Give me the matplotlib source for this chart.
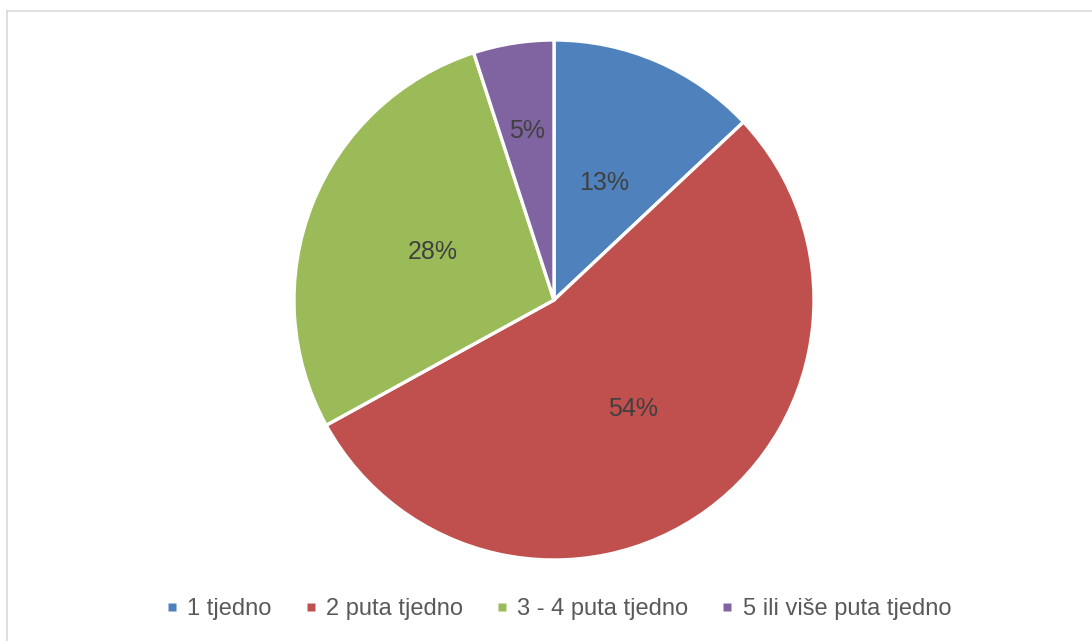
import matplotlib
matplotlib.use("Agg")
import matplotlib.pyplot as plt
from matplotlib.lines import Line2D
import numpy as np

categories = ["1 tjedno", "2 puta tjedno", "3 - 4 puta tjedno", "5 ili više puta tjedno"]
values = [13, 54, 28, 5]
colors = ["#4F81BD", "#C0504D", "#9BBB59", "#8064A2"]
label_dist = [0.49, 0.52, 0.50, 0.66]

plt.rcParams['font.family'] = ['Liberation Sans', 'DejaVu Sans']

W, H = 1092, 641
fig = plt.figure(figsize=(W / 100, H / 100), dpi=100)

cx, cy, r = 554, 300, 260
ax = fig.add_axes([(cx - r) / W, (H - cy - r) / H, 2 * r / W, 2 * r / H])
wedges, _ = ax.pie(values, colors=colors, startangle=90, counterclock=False,
                   wedgeprops=dict(edgecolor="white", linewidth=2.4), radius=1.0)
ax.set_xlim(-1, 1)
ax.set_ylim(-1, 1)
ax.set_aspect("equal")

total = sum(values)
for w, v, d in zip(wedges, values, label_dist):
    ang = np.deg2rad((w.theta1 + w.theta2) / 2)
    ax.text(d * np.cos(ang), d * np.sin(ang), f"{round(v / total * 100)}%",
            ha="center", va="center", fontsize=18, color="#404040")

# chart border (top and left visible)
fig.add_artist(Line2D([6.5 / W, 6.5 / W], [0, 1 - 10.5 / H], transform=fig.transFigure,
                      color="#D9D9D9", linewidth=1.2))
fig.add_artist(Line2D([6.5 / W, 1], [1 - 10.5 / H, 1 - 10.5 / H], transform=fig.transFigure,
                      color="#D9D9D9", linewidth=1.2))

handles = [Line2D([], [], marker="s", linestyle="none", markersize=6,
                  markerfacecolor=c, markeredgecolor="none") for c in colors]
fig.legend(handles, categories, loc="center", bbox_to_anchor=(0.512, 1 - 609 / H),
           ncol=4, frameon=False, fontsize=17, handlelength=0.4,
           handletextpad=0.45, columnspacing=1.45, labelcolor="#595959")

fig.savefig("out.png", dpi=100, facecolor="white")
